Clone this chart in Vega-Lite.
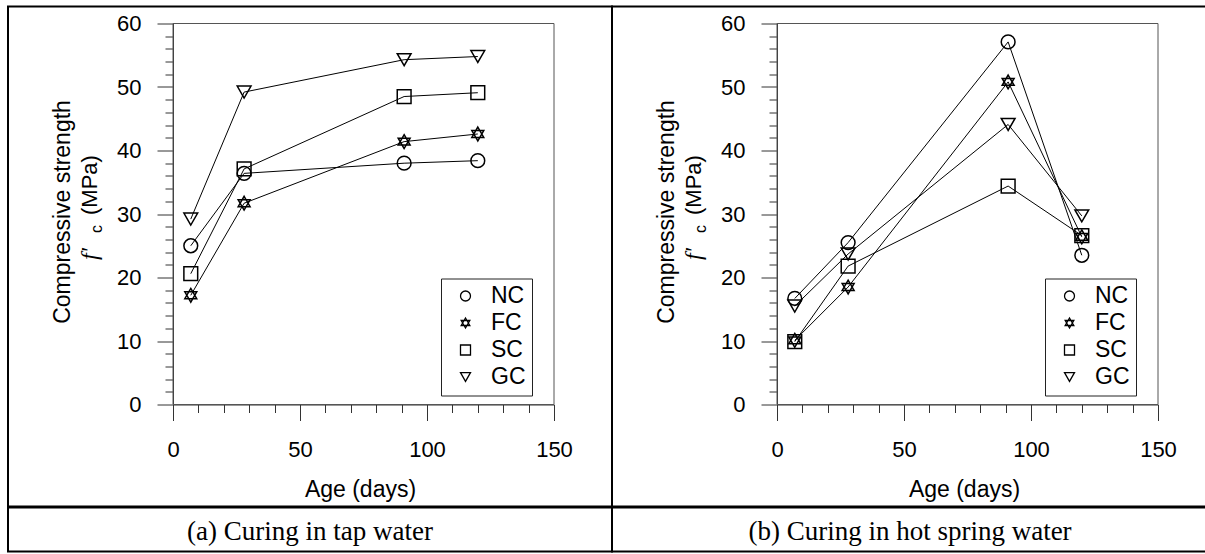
{
  "$schema": "https://vega.github.io/schema/vega-lite/v6.json",
  "padding": {"left": 7, "top": 5.5, "right": 0, "bottom": 0},
  "config": {
    "view": {"stroke": "black", "strokeWidth": 2},
    "font": "Liberation Sans",
    "axis": {"labelFont": "Liberation Sans", "titleFont": "Liberation Sans", "labelColor": "black", "titleColor": "black", "titleFontWeight": "normal", "grid": false, "labelFlush": false, "labelOverlap": false, "domainColor": "#333", "tickColor": "#333", "domainWidth": 1, "tickWidth": 1},
    "legend": {"orient": "none", "legendX": 433, "legendY": 272, "title": null, "strokeColor": "#222", "padding": 6, "rowPadding": 3, "symbolSize": 100, "symbolStrokeWidth": 1.3, "symbolStrokeColor": "black", "symbolOffset": 7, "labelOffset": 14, "labelFontSize": 23, "labelFont": "Liberation Sans", "labelColor": "black"},
    "concat": {"spacing": 0}
  },
  "datasets": {
    "tap": [
      {"series": "NC", "age": 7, "strength": 25.0},
      {"series": "NC", "age": 28, "strength": 36.4},
      {"series": "NC", "age": 91, "strength": 38.0},
      {"series": "NC", "age": 120, "strength": 38.4},
      {"series": "FC", "age": 7, "strength": 17.2},
      {"series": "FC", "age": 28, "strength": 31.7},
      {"series": "FC", "age": 91, "strength": 41.4},
      {"series": "FC", "age": 120, "strength": 42.6},
      {"series": "SC", "age": 7, "strength": 20.6},
      {"series": "SC", "age": 28, "strength": 37.1},
      {"series": "SC", "age": 91, "strength": 48.5},
      {"series": "SC", "age": 120, "strength": 49.1},
      {"series": "GC", "age": 7, "strength": 29.2},
      {"series": "GC", "age": 28, "strength": 49.2},
      {"series": "GC", "age": 91, "strength": 54.3},
      {"series": "GC", "age": 120, "strength": 54.8}
    ],
    "hot": [
      {"series": "NC", "age": 7, "strength": 16.7},
      {"series": "NC", "age": 28, "strength": 25.5},
      {"series": "NC", "age": 91, "strength": 57.1},
      {"series": "NC", "age": 120, "strength": 23.5},
      {"series": "FC", "age": 7, "strength": 10.1},
      {"series": "FC", "age": 28, "strength": 18.5},
      {"series": "FC", "age": 91, "strength": 50.8},
      {"series": "FC", "age": 120, "strength": 26.4},
      {"series": "SC", "age": 7, "strength": 9.9},
      {"series": "SC", "age": 28, "strength": 21.8},
      {"series": "SC", "age": 91, "strength": 34.4},
      {"series": "SC", "age": 120, "strength": 26.6},
      {"series": "GC", "age": 7, "strength": 15.5},
      {"series": "GC", "age": 28, "strength": 23.7},
      {"series": "GC", "age": 91, "strength": 44.1},
      {"series": "GC", "age": 120, "strength": 29.7}
    ]
  },
  "spacing": -2,
  "vconcat": [
    {
      "spacing": 0,
      "bounds": "flush",
      "resolve": {"scale": {"x": "independent", "y": "independent", "shape": "independent"}, "legend": {"shape": "independent"}},
      "hconcat": [
        {
          "width": 604, "height": 500,
          "data": {"name": "tap"},
          "resolve": {"axis": {"x": "independent", "y": "independent"}},
          "layer": [
            {
              "data": {"values": [{"frame": "plot area"}]},
              "mark": {"type": "rect", "filled": false, "stroke": "#555", "strokeWidth": 1},
              "encoding": {
                "x": {"datum": 0, "type": "quantitative", "scale": {"domain": [0, 150], "range": [165, 546], "nice": false, "zero": false},
                  "axis": {"orient": "bottom", "offset": -102, "values": [10, 20, 30, 40, 60, 70, 80, 90, 110, 120, 130, 140], "tickSize": 8, "labels": false, "domain": false, "title": null}},
                "x2": {"datum": 150},
                "y": {"datum": 0, "type": "quantitative", "scale": {"domain": [0, 60], "range": [398, 17], "nice": false, "zero": false},
                  "axis": {"orient": "left", "offset": -165, "values": [2, 4, 6, 8, 12, 14, 16, 18, 22, 24, 26, 28, 32, 34, 36, 38, 42, 44, 46, 48, 52, 54, 56, 58], "tickSize": 8, "labels": false, "domain": false,
                    "title": "f'", "titleFont": "Liberation Serif", "titleFontStyle": "italic", "titleFontSize": 24, "titleAngle": 270, "titleAlign": "left", "titleBaseline": "alphabetic", "titleX": -77, "titleY": 253}},
                "y2": {"datum": 60}
              }
            },
            {
              "mark": {"type": "line", "color": "black", "strokeWidth": 1},
              "encoding": {
                "x": {"field": "age", "type": "quantitative", "scale": {"domain": [0, 150], "range": [165, 546], "nice": false, "zero": false},
                  "axis": {"orient": "bottom", "offset": -102, "values": [0, 50, 100, 150], "tickSize": 16, "labelFontSize": 22, "labelPadding": 19,
                    "title": "Age (days)", "titleFontSize": 23, "titleX": 352, "titleY": 92, "titleBaseline": "alphabetic", "titleAlign": "center"}},
                "y": {"field": "strength", "type": "quantitative", "scale": {"domain": [0, 60], "range": [398, 17], "nice": false, "zero": false},
                  "axis": {"orient": "left", "offset": -165, "values": [0, 10, 20, 30, 40, 50, 60], "tickSize": 16, "labelFontSize": 22, "labelPadding": 16,
                    "title": "Compressive strength", "titleFontSize": 23, "titleAngle": 270, "titleAlign": "center", "titleBaseline": "alphabetic", "titleX": -104, "titleY": 205}},
                "detail": {"field": "series", "type": "nominal"}
              }
            },
            {
              "mark": {"type": "point", "filled": false, "color": "black", "strokeWidth": 1.5, "size": 190, "opacity": 1},
              "encoding": {
                "x": {"field": "age", "type": "quantitative", "scale": {"domain": [0, 150], "range": [165, 546], "nice": false, "zero": false},
                  "axis": {"orient": "bottom", "offset": -102, "domain": false, "ticks": false, "labels": false,
                    "title": "c", "titleFontSize": 16, "titleAngle": 270, "titleAlign": "left", "titleBaseline": "alphabetic", "titleX": 93, "titleY": -172}},
                "y": {"field": "strength", "type": "quantitative", "scale": {"domain": [0, 60], "range": [398, 17], "nice": false, "zero": false},
                  "axis": {"orient": "left", "offset": -165, "domain": false, "ticks": false, "labels": false,
                    "title": "(MPa)", "titleFontSize": 22, "titleAngle": 270, "titleAlign": "left", "titleBaseline": "alphabetic", "titleX": -77, "titleY": 208}},
                "shape": {"field": "series", "type": "nominal",
                  "scale": {"domain": ["NC", "FC", "SC", "GC"], "range": ["circle", "M0,-1L0.866,0.5L-0.866,0.5Z M0,1L-0.866,-0.5L0.866,-0.5Z", "square", "triangle-down"]}}
              }
            }
          ]
        },
        {
          "width": 596, "height": 500,
          "data": {"name": "hot"},
          "resolve": {"axis": {"x": "independent", "y": "independent"}},
          "layer": [
            {
              "data": {"values": [{"frame": "plot area"}]},
              "mark": {"type": "rect", "filled": false, "stroke": "#555", "strokeWidth": 1},
              "encoding": {
                "x": {"datum": 0, "type": "quantitative", "scale": {"domain": [0, 150], "range": [165, 546], "nice": false, "zero": false},
                  "axis": {"orient": "bottom", "offset": -102, "values": [10, 20, 30, 40, 60, 70, 80, 90, 110, 120, 130, 140], "tickSize": 8, "labels": false, "domain": false, "title": null}},
                "x2": {"datum": 150},
                "y": {"datum": 0, "type": "quantitative", "scale": {"domain": [0, 60], "range": [398, 17], "nice": false, "zero": false},
                  "axis": {"orient": "left", "offset": -165, "values": [2, 4, 6, 8, 12, 14, 16, 18, 22, 24, 26, 28, 32, 34, 36, 38, 42, 44, 46, 48, 52, 54, 56, 58], "tickSize": 8, "labels": false, "domain": false,
                    "title": "f'", "titleFont": "Liberation Serif", "titleFontStyle": "italic", "titleFontSize": 24, "titleAngle": 270, "titleAlign": "left", "titleBaseline": "alphabetic", "titleX": -77, "titleY": 253}},
                "y2": {"datum": 60}
              }
            },
            {
              "mark": {"type": "line", "color": "black", "strokeWidth": 1},
              "encoding": {
                "x": {"field": "age", "type": "quantitative", "scale": {"domain": [0, 150], "range": [165, 546], "nice": false, "zero": false},
                  "axis": {"orient": "bottom", "offset": -102, "values": [0, 50, 100, 150], "tickSize": 16, "labelFontSize": 22, "labelPadding": 19,
                    "title": "Age (days)", "titleFontSize": 23, "titleX": 352, "titleY": 92, "titleBaseline": "alphabetic", "titleAlign": "center"}},
                "y": {"field": "strength", "type": "quantitative", "scale": {"domain": [0, 60], "range": [398, 17], "nice": false, "zero": false},
                  "axis": {"orient": "left", "offset": -165, "values": [0, 10, 20, 30, 40, 50, 60], "tickSize": 16, "labelFontSize": 22, "labelPadding": 16,
                    "title": "Compressive strength", "titleFontSize": 23, "titleAngle": 270, "titleAlign": "center", "titleBaseline": "alphabetic", "titleX": -104, "titleY": 205}},
                "detail": {"field": "series", "type": "nominal"}
              }
            },
            {
              "mark": {"type": "point", "filled": false, "color": "black", "strokeWidth": 1.5, "size": 190, "opacity": 1},
              "encoding": {
                "x": {"field": "age", "type": "quantitative", "scale": {"domain": [0, 150], "range": [165, 546], "nice": false, "zero": false},
                  "axis": {"orient": "bottom", "offset": -102, "domain": false, "ticks": false, "labels": false,
                    "title": "c", "titleFontSize": 16, "titleAngle": 270, "titleAlign": "left", "titleBaseline": "alphabetic", "titleX": 93, "titleY": -172}},
                "y": {"field": "strength", "type": "quantitative", "scale": {"domain": [0, 60], "range": [398, 17], "nice": false, "zero": false},
                  "axis": {"orient": "left", "offset": -165, "domain": false, "ticks": false, "labels": false,
                    "title": "(MPa)", "titleFontSize": 22, "titleAngle": 270, "titleAlign": "left", "titleBaseline": "alphabetic", "titleX": -77, "titleY": 208}},
                "shape": {"field": "series", "type": "nominal",
                  "scale": {"domain": ["NC", "FC", "SC", "GC"], "range": ["circle", "M0,-1L0.866,0.5L-0.866,0.5Z M0,1L-0.866,-0.5L0.866,-0.5Z", "square", "triangle-down"]}}
              }
            }
          ]
        }
      ]
    },
    {
      "spacing": 0,
      "bounds": "flush",
      "resolve": {"scale": {"x": "independent", "y": "independent"}},
      "hconcat": [
        {
          "width": 604, "height": 44,
          "data": {"values": [{"caption": "(a) Curing in tap water"}]},
          "mark": {"type": "text", "font": "Liberation Serif", "fontSize": 27, "color": "black", "baseline": "middle", "dy": 2},
          "encoding": {
            "x": {"datum": 0.5, "type": "quantitative", "scale": {"domain": [0, 1]}, "axis": null},
            "y": {"datum": 0.5, "type": "quantitative", "scale": {"domain": [0, 1]}, "axis": null},
            "text": {"field": "caption", "type": "nominal"}
          }
        },
        {
          "width": 596, "height": 44,
          "data": {"values": [{"caption": "(b) Curing in hot spring water"}]},
          "mark": {"type": "text", "font": "Liberation Serif", "fontSize": 27, "color": "black", "baseline": "middle", "dy": 2},
          "encoding": {
            "x": {"datum": 0.5, "type": "quantitative", "scale": {"domain": [0, 1]}, "axis": null},
            "y": {"datum": 0.5, "type": "quantitative", "scale": {"domain": [0, 1]}, "axis": null},
            "text": {"field": "caption", "type": "nominal"}
          }
        }
      ]
    }
  ]
}
